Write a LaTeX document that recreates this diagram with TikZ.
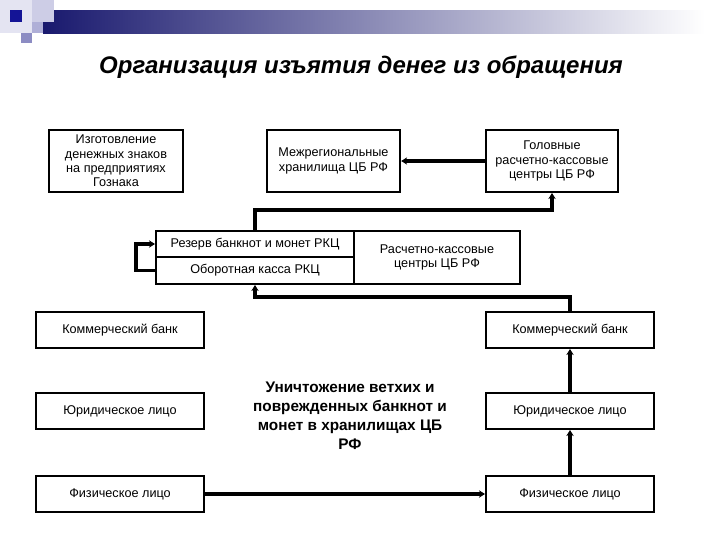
\documentclass[tikz,border=0pt]{standalone}
\usepackage{fontspec}
\setmainfont{Liberation Sans}
\usetikzlibrary{arrows.meta}

\definecolor{bannernavy}{RGB}{25,25,110}
\definecolor{bannerhalf}{RGB}{140,140,180}
\definecolor{bannerdark}{RGB}{20,20,150}
\definecolor{bannerpale}{RGB}{228,228,242}
\definecolor{bannerlight}{RGB}{205,205,230}
\definecolor{bannermid}{RGB}{175,175,215}
\definecolor{bannerdeep}{RGB}{140,140,195}

\tikzset{every picture/.style={line width=0.75pt}}
\tikzset{
  box/.style={draw, line width=1.5pt, align=center, inner sep=1pt,
    font=\fontsize{9.5}{10.8}\selectfont},
  conn/.style={line width=2.4pt, -{Stealth[length=4.5pt,width=5.5pt]}},
}

\begin{document}
\begin{tikzpicture}[x=0.75pt,y=0.75pt,yscale=-1,xscale=1]
%set diagram left start at 0, and has height of 540
\useasboundingbox (0,0) rectangle (720,540);

%Shape: Banner
\fill[bannerpale] (0,0) rectangle (32,33);
\shade[left color=bannernavy, middle color=bannerhalf, right color=white] (43,10) rectangle (705,33);
\fill[bannerlight] (32,0) rectangle (54,22);
\fill[bannermid] (32,22) rectangle (43,33);
\fill[bannerdeep] (21,33) rectangle (32,43);
\fill[bannerdark] (10,10) rectangle (22,22);

% Text Node
\draw (361,67) node [font=\fontsize{18}{22}\selectfont\bfseries\itshape] (title) {Организация изъятия денег из обращения};

%Shape: Rectangle
\draw (116,161) node [box, minimum width=100.5pt, minimum height=46.5pt] (izgot) {Изготовление\\денежных знаков\\на предприятиях\\Гознака};
%Shape: Rectangle
\draw (333.5,161) node [box, minimum width=100pt, minimum height=46.5pt] (mezh) {Межрегиональные\\хранилища ЦБ РФ};
%Shape: Rectangle
\draw (552,161) node [box, minimum width=99pt, minimum height=46.5pt] (golov) {Головные\\расчетно-кассовые\\центры ЦБ РФ};

%Shape: Rectangle
\draw (255,244) node [box, minimum width=148.5pt, minimum height=19.5pt] (rezerv) {Резерв банкнот и монет РКЦ};
%Shape: Rectangle
\draw (255,270.5) node [box, minimum width=148.5pt, minimum height=20.25pt] (oborot) {Оборотная касса РКЦ};
%Shape: Rectangle
\draw (437,257.5) node [box, minimum width=124.5pt, minimum height=39.75pt] (rkc) {Расчетно-кассовые\\центры ЦБ РФ};

%Shape: Rectangle
\draw (120,330) node [box, minimum width=126pt, minimum height=27pt] (komL) {Коммерческий банк};
%Shape: Rectangle
\draw (120,411) node [box, minimum width=126pt, minimum height=27pt] (jurL) {Юридическое лицо};
%Shape: Rectangle
\draw (120,494) node [box, minimum width=126pt, minimum height=27pt] (fizL) {Физическое лицо};
%Shape: Rectangle
\draw (570,330) node [box, minimum width=126pt, minimum height=27pt] (komR) {Коммерческий банк};
%Shape: Rectangle
\draw (570,411) node [box, minimum width=126pt, minimum height=27pt] (jurR) {Юридическое лицо};
%Shape: Rectangle
\draw (570,494) node [box, minimum width=126pt, minimum height=27pt] (fizR) {Физическое лицо};

% Text Node
\draw (350,416) node [align=center, font=\fontsize{11.5}{14.3}\selectfont\bfseries] (unicht) {Уничтожение ветхих и\\поврежденных банкнот и\\монет в хранилищах ЦБ\\РФ};

%Straight Lines
\draw [conn] (golov.west) -- (mezh.east);
\draw [conn] (rezerv.north) -- ++(0,-20) -| (golov.south);
\draw [conn] (oborot.west) -- ++(-19,0) |- (rezerv.west);
\draw [conn] (komR.north) -- ++(0,-14) -| (oborot.south);
\draw [conn] (fizL.east) -- (fizR.west);
\draw [conn] (fizR.north) -- (jurR.south);
\draw [conn] (jurR.north) -- (komR.south);

\end{tikzpicture}
\end{document}
